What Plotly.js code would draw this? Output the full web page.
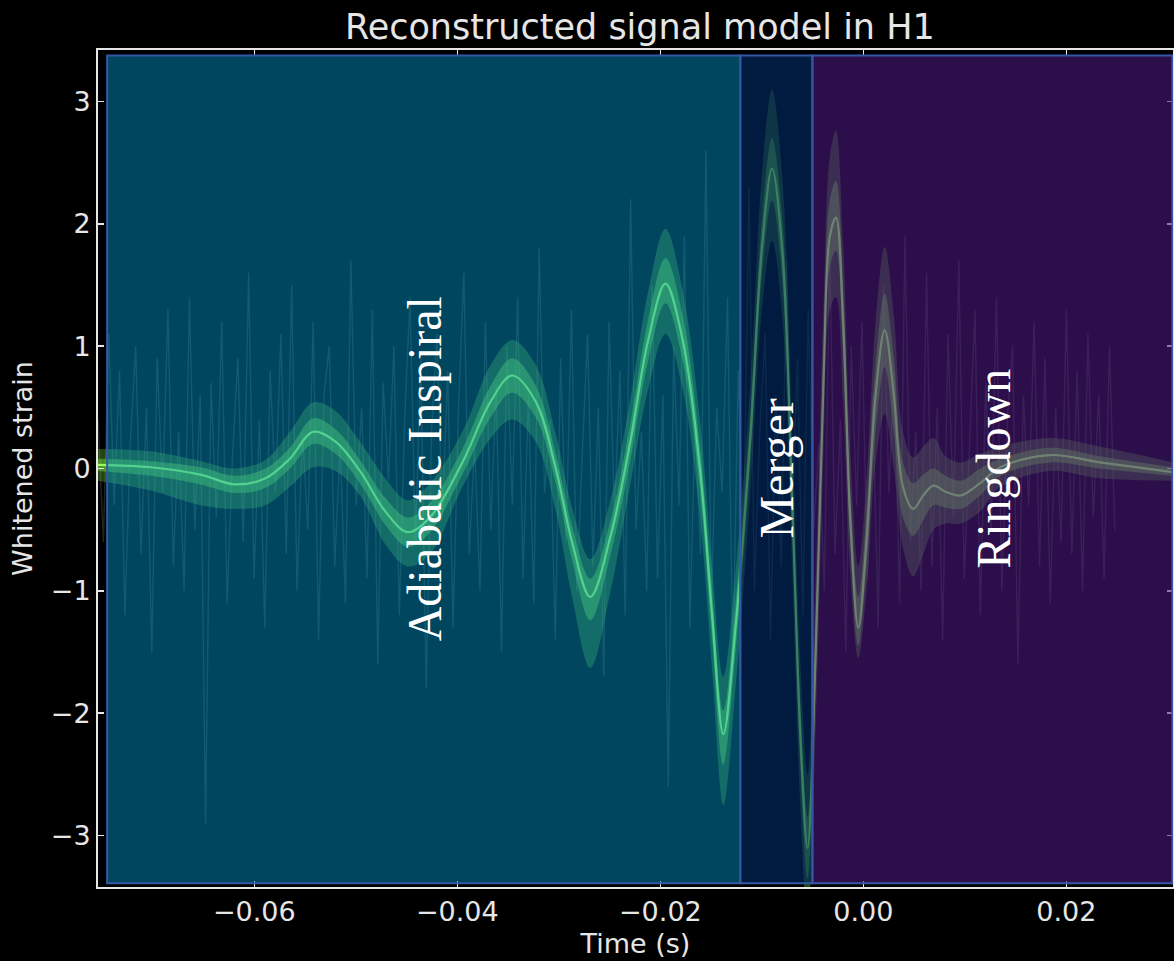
<!DOCTYPE html>
<html>
<head>
<meta charset="utf-8">
<script src="https://cdn.plot.ly/plotly-3.0.1.min.js"></script>
<style>html,body{margin:0;padding:0;background:#000;}</style>
</head>
<body>
<div id="chart" style="width:1174px;height:961px;"></div>
<script>
// ---- data ----
const time = [-0.0754,-0.0702,-0.0653,-0.0619,-0.0589,-0.0565,-0.0542,-0.0520,-0.0496,-0.0471,
  -0.0449,-0.0427,-0.0395,-0.0367,-0.0346,-0.0323,-0.0303,-0.0287,-0.0269,-0.0249,
  -0.0230,-0.0212,-0.0195,-0.0178,-0.0161,-0.0149,-0.0138,-0.0126,-0.0111,-0.0100,
  -0.0090,-0.0080,-0.0070,-0.0062,-0.0055,-0.0047,-0.0039,-0.0033,-0.0027,-0.0020,
  -0.0013,-0.0005,0.0003,0.0012,0.0021,0.0030,0.0039,0.0049,0.0059,0.0069,
  0.0081,0.0096,0.0115,0.0135,0.0184,0.0233,0.0305];
const median = [0.03,0.01,-0.05,-0.13,-0.08,0.08,0.30,0.22,-0.02,-0.35,
  -0.52,-0.40,0.05,0.55,0.76,0.55,0.00,-0.60,-1.05,-0.55,
  0.20,1.05,1.51,1.05,0.00,-1.20,-2.17,-1.30,0.30,1.80,
  2.45,1.80,-0.30,-2.20,-3.10,-1.50,0.80,1.90,2.05,1.20,
  -0.40,-1.30,-0.60,0.60,1.13,0.60,-0.15,-0.33,-0.22,-0.14,
  -0.19,-0.22,-0.12,0.01,0.11,0.05,-0.03];
const lower90 = [-0.10,-0.18,-0.30,-0.33,-0.30,-0.15,0.01,-0.02,-0.22,-0.62,
  -0.80,-0.70,-0.15,0.25,0.40,0.22,-0.35,-1.05,-1.63,-1.00,
  -0.15,0.65,1.10,0.65,-0.40,-1.65,-2.75,-1.80,-0.15,1.30,
  1.86,1.25,-0.85,-2.80,-3.70,-2.10,0.20,1.30,1.40,0.55,
  -0.85,-1.55,-1.00,0.05,0.45,0.00,-0.65,-0.88,-0.70,-0.50,
  -0.45,-0.45,-0.35,-0.15,-0.02,-0.08,-0.10];
const lower50 = [-0.02,-0.06,-0.13,-0.20,-0.16,0.00,0.20,0.12,-0.12,-0.46,
  -0.64,-0.52,-0.05,0.42,0.62,0.42,-0.12,-0.75,-1.24,-0.70,
  0.05,0.88,1.35,0.88,-0.18,-1.40,-2.42,-1.50,0.10,1.58,
  2.19,1.55,-0.55,-2.45,-3.35,-1.75,0.55,1.65,1.78,0.95,
  -0.60,-1.45,-0.80,0.30,0.83,0.30,-0.40,-0.55,-0.42,-0.30,
  -0.32,-0.33,-0.22,-0.06,0.05,0.00,-0.06];
const upper50 = [0.08,0.06,0.01,-0.06,0.00,0.17,0.41,0.32,0.07,-0.24,
  -0.40,-0.28,0.16,0.68,0.90,0.68,0.12,-0.47,-0.90,-0.42,
  0.35,1.22,1.72,1.25,0.18,-1.00,-1.98,-1.10,0.50,2.02,
  2.70,2.05,-0.05,-1.95,-2.85,-1.25,1.05,2.20,2.35,1.50,
  -0.15,-1.05,-0.35,0.85,1.43,0.90,0.05,-0.12,-0.05,0.00,
  -0.06,-0.10,0.00,0.08,0.17,0.10,0.01];
const upper90 = [0.16,0.14,0.06,0.00,0.07,0.30,0.54,0.47,0.22,-0.08,
  -0.26,-0.12,0.30,0.85,1.05,0.85,0.28,-0.32,-0.74,-0.25,
  0.55,1.45,1.96,1.45,0.40,-0.80,-1.70,-0.85,0.75,2.40,
  3.10,2.40,0.25,-1.60,-2.50,-0.90,1.40,2.55,2.76,1.85,
  0.15,-0.80,-0.10,1.20,1.81,1.25,0.30,0.09,0.18,0.25,
  0.10,0.05,0.12,0.18,0.25,0.18,0.05];
// faint whitened data in the background
const dataStart = -0.0754, dataStep = 0.00053;
const whitenedData = [0.4,-0.6,1.1,-0.3,0.8,-1.2,0.2,1.0,-0.7,0.5,-1.5,0.9,-0.2,1.3,-0.8,0.3,-1.0,1.4,-0.5,0.6,
  -2.9,0.7,-0.4,1.2,-1.1,0.1,0.9,-0.6,1.6,-0.9,0.4,-1.3,0.8,-0.2,1.1,-0.7,1.5,-1.0,0.3,-0.5,
  1.2,-1.4,0.6,1.0,-0.8,0.2,-1.1,1.7,-0.3,0.5,-0.9,1.3,-1.6,0.7,-0.1,1.0,-1.2,0.4,1.4,-0.6,
  0.9,-1.8,0.3,1.1,-0.4,0.8,-1.3,0.5,1.6,-0.7,0.2,-1.0,1.2,-0.5,0.7,-1.5,1.0,-0.3,1.4,-0.9,
  0.6,-1.1,1.8,-0.2,0.4,-1.4,0.9,-0.6,1.3,-1.0,0.1,1.1,-0.8,0.5,-1.7,1.2,-0.4,0.8,-1.2,2.2,
  -0.5,0.3,-1.0,1.5,-0.9,0.6,-2.6,1.0,-0.3,1.9,-1.3,0.4,-0.7,2.6,-1.1,0.5,-0.2,1.4,-1.6,0.8,
  -0.6,2.3,-1.0,0.3,1.1,-1.4,0.6,-0.8,1.7,-0.4,0.9,-1.2,1.3,-0.5,0.2,-1.0,1.8,-0.7,0.4,-1.5,
  1.0,-0.3,1.2,-0.9,0.6,-1.3,1.5,-0.2,0.8,-1.1,1.9,-0.6,0.3,-1.0,1.6,-0.8,0.5,-1.4,1.1,-0.4,
  1.7,-0.9,0.2,1.3,-1.2,0.7,-0.5,1.4,-1.0,0.4,1.0,-1.6,0.6,-0.3,1.2,-0.8,0.9,-1.1,0.5,-0.6,
  1.3,-0.7,0.8,-1.0,1.1,-0.4,0.6,-0.9,1.0,-0.5];
// phases
const phaseNames = ['Adiabatic Inspiral','Merger','Ringdown'];
const phaseStart = [-0.0745,-0.01212,-0.00502];
const phaseEnd = [-0.01212,-0.00502,0.03044];
const phaseLabelX = [-0.0432,-0.0086,0.0128];
const phaseTop = 3.376, phaseBottom = -3.39;

// ---- styling ----
const phaseColors = ['rgb(0,156,211)','rgb(0,43,107)','rgb(80,27,135)'];
const phaseOpacity = [0.45,0.6,0.55];
const phaseBorder = 'rgb(52,88,165)';
const txt = '#e6e6e6';
const sp = {shape:'spline', smoothing:1.0};

const traces = [
  {x0:dataStart, dx:dataStep, y:whitenedData, type:'scatter', mode:'lines',
   line:{color:'rgba(150,170,150,0.22)', width:1.4}, hoverinfo:'skip'},
  {x:time, y:lower90, type:'scatter', mode:'lines', line:Object.assign({width:0, color:'rgba(0,0,0,0)'}, sp), hoverinfo:'skip'},
  {x:time, y:upper90, type:'scatter', mode:'lines', fill:'tonexty', fillcolor:'rgba(120,230,60,0.30)',
   line:Object.assign({width:0, color:'rgba(0,0,0,0)'}, sp), hoverinfo:'skip'},
  {x:time, y:lower50, type:'scatter', mode:'lines', line:Object.assign({width:0, color:'rgba(0,0,0,0)'}, sp), hoverinfo:'skip'},
  {x:time, y:upper50, type:'scatter', mode:'lines', fill:'tonexty', fillcolor:'rgba(120,230,60,0.45)',
   line:Object.assign({width:0, color:'rgba(0,0,0,0)'}, sp), hoverinfo:'skip'},
  {x:time, y:median, type:'scatter', mode:'lines', line:Object.assign({width:2.2, color:'rgb(150,255,90)'}, sp)}
];

const shapes = [];
const annotations = [];
for (let i = 0; i < phaseNames.length; i++) {
  shapes.push({type:'rect', xref:'x', yref:'y', x0:phaseStart[i], x1:phaseEnd[i], y0:phaseBottom, y1:phaseTop,
    fillcolor:phaseColors[i], opacity:phaseOpacity[i], line:{width:0}, layer:'above'});
  shapes.push({type:'rect', xref:'x', yref:'y', x0:phaseStart[i], x1:phaseEnd[i], y0:phaseBottom, y1:phaseTop,
    fillcolor:'rgba(0,0,0,0)', line:{width:2, color:phaseBorder}, layer:'above'});
  annotations.push({x:phaseLabelX[i], y:0, xref:'x', yref:'y', text:phaseNames[i], showarrow:false,
    textangle:-90, font:{family:'Liberation Serif, Times New Roman, serif', size:48, color:'#ffffff'}});
}

const axisCommon = {
  showgrid:false, zeroline:false, showline:true, linecolor:txt, linewidth:2, mirror:'ticks',
  ticks:'inside', ticklen:6, tickwidth:1.5, tickcolor:txt,
  tickfont:{family:'DejaVu Sans', size:27, color:txt}
};

const layout = {
  width:1174, height:961,
  margin:{l:98, r:1, t:50, b:74},
  paper_bgcolor:'#000', plot_bgcolor:'#000',
  showlegend:false,
  title:{text:'Reconstructed signal model in H1', x:0.545, xanchor:'center', y:0.972, yanchor:'middle',
    font:{family:'DejaVu Sans', size:35, color:txt}},
  xaxis:Object.assign({}, axisCommon, {range:[-0.0754,0.0305], tick0:0, dtick:0.02, tickformat:'.2f',
    title:{text:'Time (s)', font:{family:'DejaVu Sans', size:27, color:txt}, standoff:8}}),
  yaxis:Object.assign({}, axisCommon, {range:[-3.42,3.42], tick0:0, dtick:1,
    title:{text:'Whitened strain', font:{family:'DejaVu Sans', size:27, color:txt}, standoff:10}}),
  shapes:shapes,
  annotations:annotations
};

Plotly.newPlot('chart', traces, layout, {displayModeBar:false, staticPlot:true});
</script>
</body>
</html>
